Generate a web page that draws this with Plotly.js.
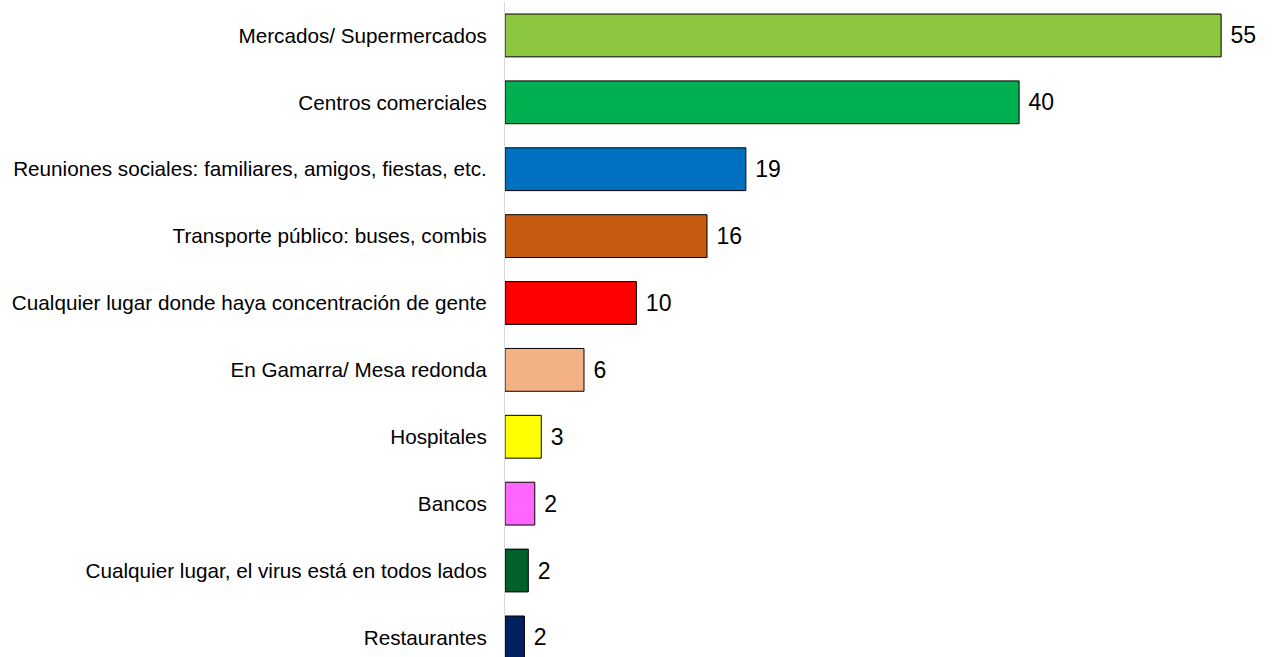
<!DOCTYPE html>
<html>
<head>
<meta charset="utf-8">
<script src="https://cdn.plot.ly/plotly-3.0.1.min.js"></script>
<style>html,body{margin:0;padding:0;background:#fff;}#chart{width:1275px;height:657px;}</style>
</head>
<body>
<div id="chart"></div>
<script>
var categories = [
  "Mercados/ Supermercados",
  "Centros comerciales",
  "Reuniones sociales: familiares, amigos, fiestas, etc.",
  "Transporte público: buses, combis",
  "Cualquier lugar donde haya concentración de gente",
  "En Gamarra/ Mesa redonda",
  "Hospitales",
  "Bancos",
  "Cualquier lugar, el virus está en todos lados",
  "Restaurantes"
];
var values = [55.3, 39.7, 18.6, 15.6, 10.15, 6.1, 2.8, 2.3, 1.8, 1.5];
var valueLabels = ["55", "40", "19", "16", "10", "6", "3", "2", "2", "2"];
var barColors = ["#8DC63F", "#00B050", "#0070C0", "#C55A11", "#FF0000",
                 "#F4B183", "#FFFF00", "#FF66FF", "#00602B", "#002060"];

var trace = {
  type: "bar",
  orientation: "h",
  y: categories,
  x: values,
  text: valueLabels.map(function (t) { return "\u00A0" + t; }),
  textposition: "outside",
  cliponaxis: false,
  textfont: {family: "Liberation Sans, Arial, sans-serif", size: 23, color: "#000"},
  marker: {color: barColors, line: {color: "#000", width: 1}},
  width: 0.64,
  hoverinfo: "none"
};

var layout = {
  width: 1275,
  height: 657,
  margin: {l: 505, r: 0, t: 2, b: 0, pad: 0},
  paper_bgcolor: "#fff",
  plot_bgcolor: "#fff",
  showlegend: false,
  font: {family: "Liberation Sans, Arial, sans-serif", color: "#000"},
  xaxis: {
    range: [0, 59.46],
    showgrid: false,
    zeroline: false,
    showticklabels: false,
    ticks: "",
    showline: false
  },
  yaxis: {
    type: "category",
    range: [9.293, -0.5],
    showgrid: false,
    zeroline: false,
    showline: true,
    linecolor: "#d9d9d9",
    linewidth: 1,
    ticks: "outside",
    ticklen: 13,
    tickcolor: "rgba(0,0,0,0)",
    tickfont: {family: "Liberation Sans, Arial, sans-serif", size: 20.7, color: "#000"}
  }
};

Plotly.newPlot("chart", [trace], layout, {displayModeBar: false, staticPlot: true});
</script>
</body>
</html>
